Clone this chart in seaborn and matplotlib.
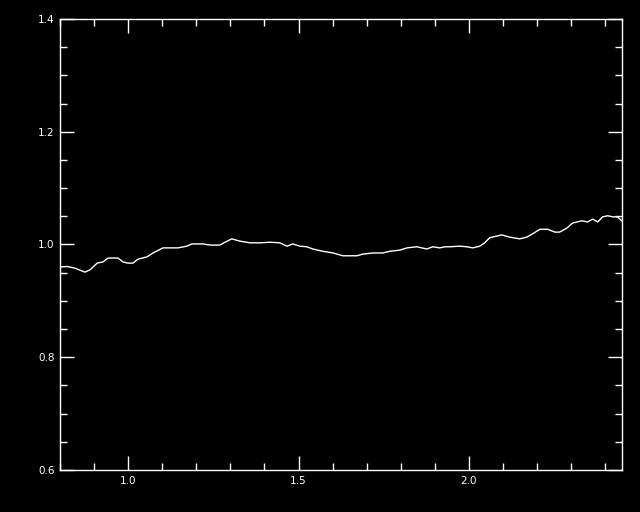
import numpy as np
import pandas as pd
import matplotlib
matplotlib.use("Agg")
import matplotlib.pyplot as plt
import seaborn as sns
from matplotlib.ticker import MultipleLocator

# values
wavelength = [0.800, 0.821, 0.844, 0.873, 0.888, 0.909, 0.926, 0.941, 0.970, 0.985,
              0.999, 1.014, 1.029, 1.055, 1.073, 1.102, 1.146, 1.172, 1.187, 1.219,
              1.240, 1.269, 1.284, 1.304, 1.328, 1.357, 1.387, 1.416, 1.445, 1.466,
              1.483, 1.504, 1.524, 1.542, 1.571, 1.601, 1.630, 1.671, 1.689, 1.718,
              1.747, 1.768, 1.797, 1.818, 1.847, 1.876, 1.894, 1.914, 1.930, 1.944,
              1.973, 1.994, 2.011, 2.032, 2.046, 2.061, 2.082, 2.096, 2.120, 2.149,
              2.169, 2.187, 2.208, 2.231, 2.252, 2.266, 2.287, 2.304, 2.331, 2.348,
              2.363, 2.378, 2.392, 2.407, 2.422, 2.436, 2.448]
flux = [0.960, 0.961, 0.958, 0.951, 0.955, 0.967, 0.969, 0.976, 0.976, 0.969,
        0.967, 0.967, 0.974, 0.978, 0.985, 0.994, 0.994, 0.997, 1.001, 1.001,
        0.999, 0.999, 1.004, 1.010, 1.006, 1.003, 1.003, 1.004, 1.003, 0.997,
        1.001, 0.997, 0.996, 0.992, 0.988, 0.985, 0.980, 0.980, 0.983, 0.985,
        0.985, 0.988, 0.990, 0.994, 0.996, 0.992, 0.996, 0.994, 0.996, 0.996,
        0.997, 0.996, 0.994, 0.997, 1.003, 1.012, 1.015, 1.017, 1.013, 1.010,
        1.013, 1.019, 1.027, 1.027, 1.022, 1.022, 1.029, 1.038, 1.042, 1.040,
        1.045, 1.040, 1.049, 1.051, 1.049, 1.049, 1.042]

df = pd.DataFrame({"wavelength": wavelength, "flux": flux})

sns.set_style("ticks")
plt.rcParams.update({
    "figure.facecolor": "black",
    "axes.facecolor": "black",
    "axes.edgecolor": "white",
    "text.color": "white",
    "xtick.color": "white",
    "ytick.color": "white",
    "font.family": ["DejaVu Sans"],
})

fig = plt.figure(figsize=(6.4, 5.12), dpi=100)
ax = fig.add_axes([60 / 640, 42 / 512, 562 / 640, 451 / 512])

sns.lineplot(data=df, x="wavelength", y="flux", ax=ax, color="white",
             linewidth=1.0, sort=False, estimator=None)

ax.set_xlim(0.8, 2.449)
ax.set_ylim(0.6, 1.4)
ax.xaxis.set_major_locator(MultipleLocator(0.5))
ax.xaxis.set_minor_locator(MultipleLocator(0.1))
ax.yaxis.set_major_locator(MultipleLocator(0.2))
ax.yaxis.set_minor_locator(MultipleLocator(0.05))
ax.tick_params(which="both", direction="in", top=True, right=True,
               colors="white", labelsize=7.5, width=1)
ax.tick_params(which="major", length=10, pad=4)
ax.tick_params(which="minor", length=5)
ax.set_xlabel("")
ax.set_ylabel("")
for s in ax.spines.values():
    s.set_color("white")
    s.set_linewidth(1)

fig.savefig("out.png", dpi=100, facecolor="black")
